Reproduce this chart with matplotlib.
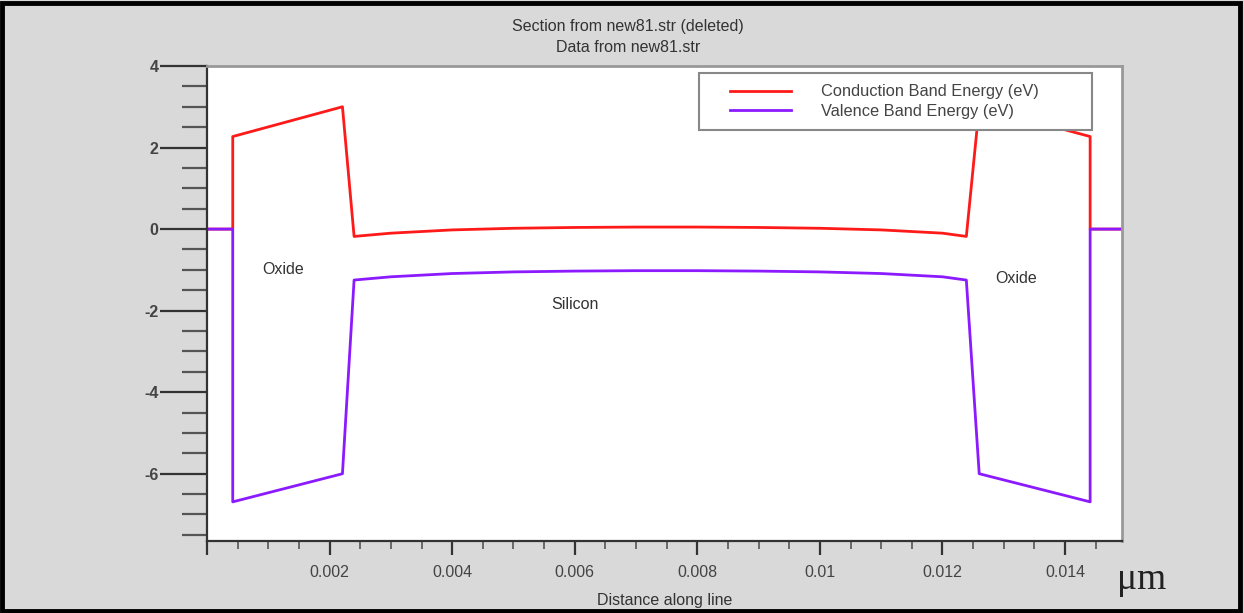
import matplotlib
matplotlib.use("Agg")
import matplotlib.pyplot as plt
from matplotlib.ticker import MultipleLocator, FuncFormatter
from matplotlib.patches import Rectangle
from matplotlib.legend_handler import HandlerLine2D

plt.rcParams['font.family'] = ['Liberation Sans', 'DejaVu Sans']

# band edges along the cut line (um, eV)
x_pos = [0.0, 0.00042, 0.00042, 0.00221, 0.0024, 0.003, 0.004, 0.005, 0.006,
         0.007, 0.008, 0.009, 0.010, 0.011, 0.012, 0.01239, 0.0126, 0.01441,
         0.01441, 0.0149]
conduction = [0.0, 0.0, 2.27, 3.0, -0.18, -0.1, -0.02, 0.02, 0.04,
              0.05, 0.05, 0.04, 0.02, -0.02, -0.1, -0.18, 3.0, 2.27,
              0.0, 0.0]
valence = [0.0, 0.0, -6.69, -6.0, -1.25, -1.17, -1.09, -1.05, -1.03,
           -1.02, -1.02, -1.03, -1.05, -1.09, -1.17, -1.25, -6.0, -6.69,
           0.0, 0.0]

series_names = ["Conduction Band Energy (eV)", "Valence Band Energy (eV)"]
region_labels = [("Oxide", 0.00125, -0.98), ("Silicon", 0.006, -1.85), ("Oxide", 0.0132, -1.22)]

fig = plt.figure(figsize=(12.44, 6.13), dpi=100)
fig.patch.set_facecolor('#d9d9d9')
# outer black frame
fig.patches.append(Rectangle((0.002, 0.004), 0.995, 0.991, transform=fig.transFigure,
                             fill=False, edgecolor='black', linewidth=3.5))

ax = fig.add_axes([207 / 1244, 1 - 541 / 613, (1122 - 207) / 1244, (541 - 66) / 613])
ax.set_facecolor('white')

l1, = ax.plot(x_pos, conduction, color='#ff1a1a', lw=2, label=series_names[0])
l2, = ax.plot(x_pos, valence, color='#8c1aff', lw=2, label=series_names[1])

ax.set_xlim(0.0, 0.01493)
ax.set_ylim(-7.65, 4.0)

ax.xaxis.set_major_locator(MultipleLocator(0.002))
ax.xaxis.set_minor_locator(MultipleLocator(0.0005))
ax.yaxis.set_major_locator(MultipleLocator(2))
ax.yaxis.set_minor_locator(MultipleLocator(0.5))

ax.xaxis.set_major_formatter(FuncFormatter(lambda v, p: "" if abs(v) < 1e-9 else f"{v:g}"))
ax.yaxis.set_major_formatter(FuncFormatter(lambda v, p: f"{v:g}".replace("\u2212", "-")))

ax.tick_params(axis='y', which='major', direction='out', length=34, width=1.6,
               color='#333333', labelsize=11.5, labelcolor='#444444', pad=1)
ax.tick_params(axis='y', which='minor', direction='out', length=18, width=1.6, color='#555555')
ax.tick_params(axis='x', which='major', direction='out', length=10, width=1.6,
               color='#333333', labelsize=11.5, labelcolor='#444444', pad=7)
ax.tick_params(axis='x', which='minor', direction='out', length=6, width=1.2, color='#555555')

for lbl in ax.get_yticklabels():
    lbl.set_fontweight('bold')

ax.spines['left'].set_color('#333333')
ax.spines['bottom'].set_color('#333333')
ax.spines['left'].set_linewidth(1.6)
ax.spines['bottom'].set_linewidth(1.6)
ax.spines['top'].set_color('#999999')
ax.spines['right'].set_color('#999999')
ax.spines['top'].set_linewidth(2)
ax.spines['right'].set_linewidth(2)

for name, xv, yv in region_labels:
    ax.text(xv, yv, name, fontsize=11.5, color='#333333', ha='center', va='center')

# xpad pushes the legend lines in from the frame edge
pad_handler = HandlerLine2D(xpad=1.22)
leg = ax.legend(handles=[l1, l2], loc='upper left',
                bbox_to_anchor=(0.5377, 0.8716, 0.4295, 0.1137),
                mode='expand', fontsize=11.8, frameon=True, fancybox=False, framealpha=1,
                handlelength=4.94, handletextpad=1.83, borderpad=0.7, labelspacing=0.26,
                borderaxespad=0, handler_map={l1: pad_handler, l2: pad_handler})
leg.get_frame().set_edgecolor('#888888')
leg.get_frame().set_linewidth(1.5)
for t in leg.get_texts():
    t.set_color('#444444')

fig.text(0.505, 1 - 27 / 613, "Section from new81.str (deleted)", ha='center', va='center',
         fontsize=11.5, color='#333333')
fig.text(0.505, 1 - 48 / 613, "Data from new81.str", ha='center', va='center',
         fontsize=11.5, color='#333333')
fig.text(665 / 1244, 1 - 601 / 613, "Distance along line", ha='center', va='center',
         fontsize=11.5, color='#333333')
fig.text(1142 / 1244, 1 - 580 / 613, "\u03bcm", ha='center', va='center',
         fontsize=27, color='#222222', family=['Liberation Serif', 'DejaVu Serif'])

fig.savefig("out.png", dpi=100, facecolor=fig.get_facecolor())
plt.close(fig)
